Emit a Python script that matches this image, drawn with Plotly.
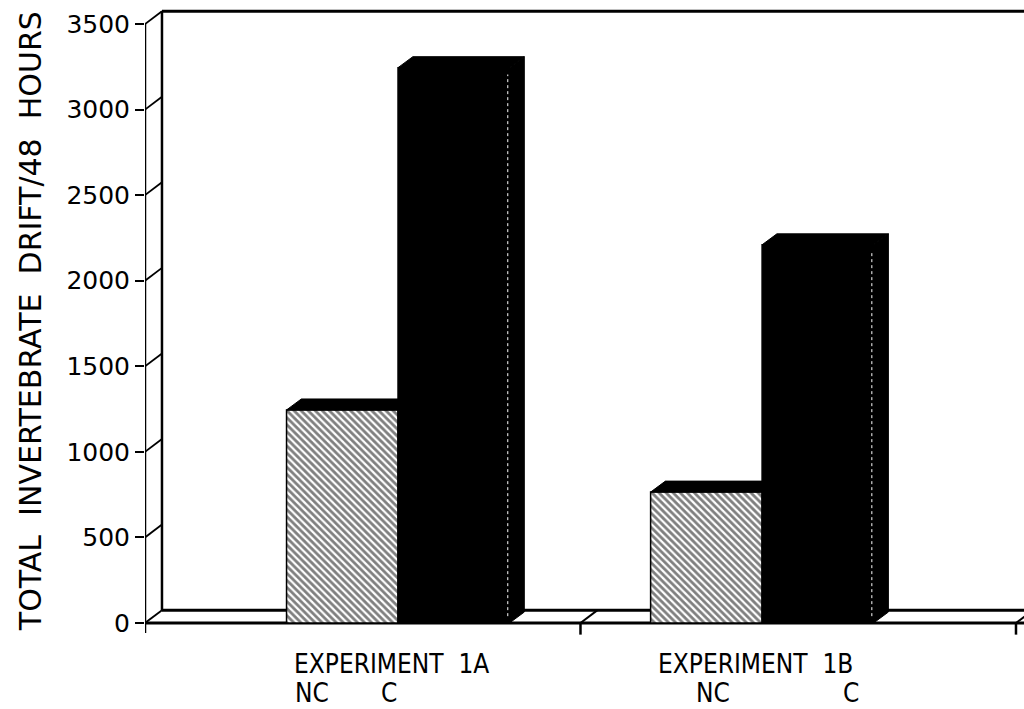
import plotly.graph_objects as go

# ---- data ----
groups = ["EXPERIMENT 1A", "EXPERIMENT 1B"]
treatments = ["NC", "C"]
nc_values = [1245, 765]
c_values = [3245, 2210]
y_ticks = [0, 500, 1000, 1500, 2000, 2500, 3000, 3500]
y_title = "TOTAL  INVERTEBRATE  DRIFT/48  HOURS"

# ---- layout constants (category units on x) ----
group_pos = [0.581, 1.417]     # boundary between NC and C bar of each group
bar_w = 0.256
BAR_DX, BAR_DY = 0.034, 64      # 3-D depth of bars
FLOOR_DX, FLOOR_DY = 0.039, 75  # 3-D depth of frame
X_MAX = 2.0184
Y_RANGE = [-157.8, 3640.3]
n_cat = 2

fig = go.Figure()

fig.add_trace(go.Bar(
    x=group_pos, y=nc_values, width=bar_w, offset=-bar_w, name=treatments[0],
    marker=dict(color="white",
                pattern=dict(shape="\\", fgcolor="black", bgcolor="white", size=5, solidity=0.55),
                line=dict(color="black", width=1.5)),
))
fig.add_trace(go.Bar(
    x=group_pos, y=c_values, width=bar_w, offset=0, name=treatments[1],
    marker=dict(color="black", line=dict(color="black", width=1.5)),
))

# 3-D faces (top faces and right side faces) derived from the values
def add_poly(xs, ys):
    fig.add_trace(go.Scatter(x=xs + [xs[0]], y=ys + [ys[0]], mode="lines", fill="toself",
                             fillcolor="black", line=dict(color="black", width=1),
                             hoverinfo="skip", showlegend=False))

for gp, nv, cv in zip(group_pos, nc_values, c_values):
    # NC top face
    x0, x1 = gp - bar_w, gp
    add_poly([x0, x0 + BAR_DX, x1 + BAR_DX, x1], [nv, nv + BAR_DY, nv + BAR_DY, nv])
    # C side face
    x0, x1 = gp, gp + bar_w
    add_poly([x1, x1 + BAR_DX, x1 + BAR_DX, x1], [0, BAR_DY, cv + BAR_DY, cv])
    # C top face
    add_poly([x0, x0 + BAR_DX, x1 + BAR_DX, x1], [cv, cv + BAR_DY, cv + BAR_DY, cv])
    # faint white edge line on C bar front/side boundary (scan look)
    fig.add_trace(go.Scatter(x=[x1 - 0.004, x1 - 0.004], y=[40, cv - 40], mode="lines",
                             line=dict(color="white", width=1, dash="dot"),
                             hoverinfo="skip", showlegend=False))

shapes = []
def line(x0, y0, x1, y1, w=2.5):
    shapes.append(dict(type="line", xref="x", yref="y", x0=x0, y0=y0, x1=x1, y1=y1,
                       line=dict(color="black", width=w), layer="below"))

top = y_ticks[-1]
# front y axis
line(0, -58, 0, top, 2.5)
# back wall left edge
line(FLOOR_DX, FLOOR_DY, FLOOR_DX, top + FLOOR_DY, 2.5)
# top back edge
line(FLOOR_DX, top + FLOOR_DY, X_MAX, top + FLOOR_DY, 3)
# diagonal tick lines from front to back wall
for t in y_ticks:
    line(0, t, FLOOR_DX, t + FLOOR_DY, 1.8)
# floor
line(0, 0, X_MAX, 0, 3)
line(FLOOR_DX, FLOOR_DY, X_MAX, FLOOR_DY, 3)
for k in range(1, n_cat + 1):
    line(k, 0, k + FLOOR_DX, FLOOR_DY, 2)
    line(k, 0, k, -68, 2.5)

# ---- labels ----
ann = []
label_font = dict(family="Liberation Sans Narrow, Arial Narrow, DejaVu Sans Condensed, sans-serif",
                  size=26, color="black")
nc_label_shift = [0.015, 0.10]
c_label_shift = [-0.02, 0.205]
for i, (g, gp) in enumerate(zip(groups, group_pos)):
    ann.append(dict(x=gp - bar_w, y=-0.021, xref="x", yref="paper", text=g.replace(" ", "  "),
                    showarrow=False, xanchor="left", yanchor="middle", font=label_font, xshift=5))
    ann.append(dict(x=gp - bar_w + nc_label_shift[i], y=-0.0665, xref="x", yref="paper", text=treatments[0],
                    showarrow=False, xanchor="left", yanchor="middle", font=label_font))
    ann.append(dict(x=gp + c_label_shift[i], y=-0.0665, xref="x", yref="paper", text=treatments[1],
                    showarrow=False, xanchor="center", yanchor="middle", font=label_font))

ann.append(dict(x=-0.1308, y=0.506, xref="paper", yref="paper", text=y_title, textangle=-90,
                showarrow=False, xanchor="center", yanchor="middle",
                font=dict(family="DejaVu Sans, sans-serif", size=30, color="black")))

fig.update_layout(
    width=1024, height=709,
    margin=dict(l=145, r=0, t=0, b=59),
    paper_bgcolor="white", plot_bgcolor="white",
    showlegend=False, barmode="overlay",
    shapes=shapes, annotations=ann,
    xaxis=dict(range=[0, X_MAX], visible=False, showgrid=False, zeroline=False),
    yaxis=dict(range=Y_RANGE, tickvals=y_ticks, ticks="outside", ticklen=9, tickwidth=2,
               tickcolor="black", showline=False, showgrid=False, zeroline=False,
               tickfont=dict(family="DejaVu Sans, sans-serif", size=25, color="black")),
)

fig.write_html("out.html", config={"displayModeBar": False},
               post_script="document.body.style.margin='0';document.body.style.overflow='hidden';")
